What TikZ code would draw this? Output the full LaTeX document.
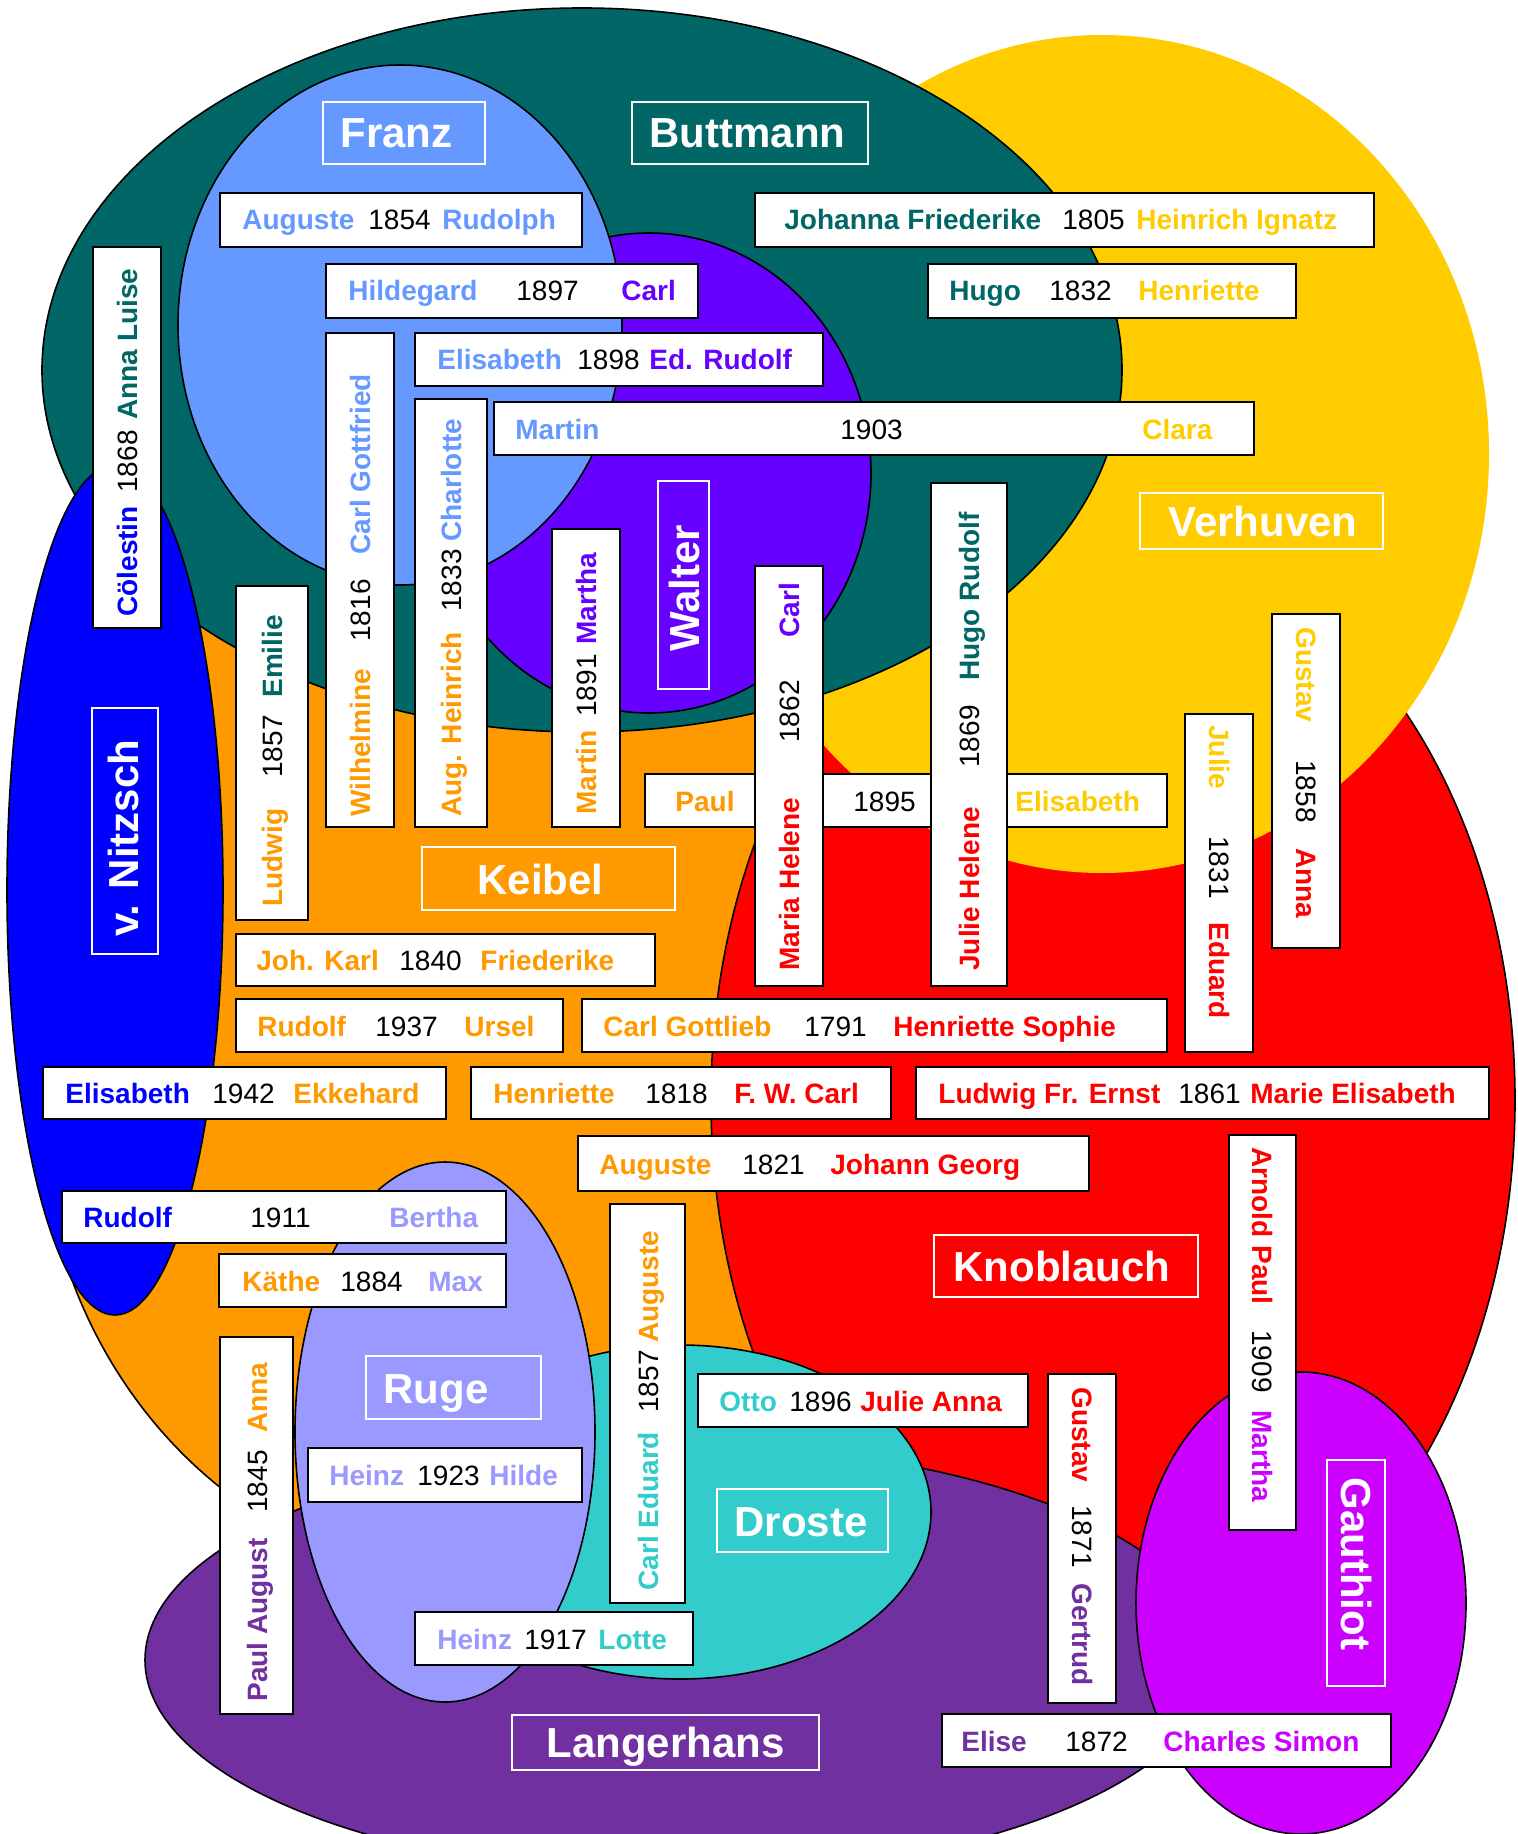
\documentclass[tikz,border=0pt]{standalone}
\usepackage{fontspec}
\setmainfont{Liberation Sans}
\definecolor{cteal}{HTML}{006666}
\definecolor{cfranz}{HTML}{6699FF}
\definecolor{cwalter}{HTML}{6600FF}
\definecolor{cyel}{HTML}{FFCC00}
\definecolor{corg}{HTML}{FF9900}
\definecolor{cred}{HTML}{FF0000}
\definecolor{cblue}{HTML}{0000FF}
\definecolor{cruge}{HTML}{9999FF}
\definecolor{cdroste}{HTML}{33CCCC}
\definecolor{clang}{HTML}{7030A0}
\definecolor{cgau}{HTML}{CC00FF}
\tikzset{
  fam/.style={draw=black, line width=0.8pt},
  pbox/.style={draw=black, fill=white, line width=1pt, inner sep=0pt, rectangle},
  tbox/.style={draw=white, line width=1pt, inner sep=0pt, rectangle},
  nm/.style={font=\fontsize{14}{16}\selectfont\bfseries, anchor=base west, inner sep=0pt},
  yr/.style={font=\fontsize{14}{16}\selectfont, text=black, anchor=base west, inner sep=0pt},
  ttl/.style={font=\fontsize{21}{24}\selectfont\bfseries, text=white, inner sep=0pt, anchor=base west}
}
\newcommand\pbx[5]{\node[pbox, minimum width={(#4-#2)*0.5pt}, minimum height={(#5-#3)*0.5pt}] (#1) at ({(#2+#4)/2},{(#3+#5)/2}) {};}
\newcommand\tbx[5]{\node[tbox, minimum width={(#4-#2)*0.5pt}, minimum height={(#5-#3)*0.5pt}] (#1) at ({(#2+#4)/2},{(#3+#5)/2}) {};}
\newcommand\hn[5]{\node[nm, text=#2] (#1) at (#3,#4) {#5};}
\newcommand\hy[4]{\node[yr] (#1) at (#2,#3) {#4};}
\newcommand\un[5]{\node[nm, text=#2, rotate=90] (#1) at (#3,#4) {#5};}
\newcommand\uy[4]{\node[yr, rotate=90] (#1) at (#2,#3) {#4};}
\newcommand\dn[5]{\node[nm, text=#2, rotate=-90] (#1) at (#3,#4) {#5};}
\newcommand\dy[4]{\node[yr, rotate=-90] (#1) at (#2,#3) {#4};}
\begin{document}
\begin{tikzpicture}[x=0.5pt, y=-0.5pt]
\useasboundingbox (0,0) rectangle (1518,1834);
% family areas
\draw[fam, fill=corg] (40,1100) arc[start angle=180, end angle=0, x radius=440, y radius=480]
   arc[start angle=0, end angle=-180, x radius=440, y radius=650] -- cycle;
\draw[fam, fill=cred] (1113,1100) ellipse [x radius=402, y radius=565];
\fill[cyel] (1102,454) ellipse [x radius=387, y radius=419];
\draw[fam, fill=cteal] (582,370) ellipse [x radius=540, y radius=362];
\draw[fam, fill=cwalter] (649,473) ellipse [x radius=222, y radius=240];
\draw[fam, fill=cfranz] (400,325) ellipse [x radius=222, y radius=260];
\draw[fam, fill=cblue] (115,890) ellipse [x radius=108, y radius=425];
\draw[fam, fill=clang] (680,1660) ellipse [x radius=535, y radius=215];
\draw[fam, fill=cdroste] (680,1512) ellipse [x radius=251, y radius=167];
\draw[fam, fill=cruge] (445,1432) ellipse [x radius=150, y radius=270];
\draw[fam, fill=cgau] (1301,1603) ellipse [x radius=165, y radius=231];

% titles
\tbx{tFranz}{323}{102}{485}{164} \node[ttl] (lFranz) at (340,148) {Franz};
\tbx{tButt}{632}{102}{868}{164} \node[ttl] (lButt) at (649,148) {Buttmann};
\tbx{tVerh}{1140}{493}{1383}{549} \node[ttl] (lVerh) at (1168,536) {Verhuven};
\tbx{tKeib}{422}{847}{675}{910} \node[ttl] (lKeib) at (477,894) {Keibel};
\tbx{tKnob}{934}{1235}{1198}{1297} \node[ttl] (lKnob) at (953,1281) {Knoblauch};
\tbx{tRuge}{366}{1356}{541}{1419} \node[ttl] (lRuge) at (383,1403) {Ruge};
\tbx{tDros}{717}{1489}{888}{1552} \node[ttl] (lDros) at (734,1536) {Droste};
\tbx{tLang}{512}{1715}{819}{1770} \node[ttl] (lLang) at (546,1757) {Langerhans};
\tbx{tWalt}{658}{481}{709}{689} \node[ttl, rotate=90] (lWalt) at (699,652) {Walter};
\tbx{tNitz}{92}{708}{158}{954} \node[ttl, rotate=90] (lNitz) at (138,937) {v. Nitzsch};
\tbx{tGaut}{1327}{1460}{1385}{1686} \node[ttl, rotate=-90] (lGaut) at (1341,1477) {Gauthiot};

% horizontal couples
\pbx{h1}{220}{193}{582}{247} \hn{h1a}{cfranz}{242}{230}{Auguste} \hy{h1b}{368}{230}{1854} \hn{h1c}{cfranz}{442}{230}{Rudolph}
\pbx{h2}{326}{264}{698}{318} \hn{h2a}{cfranz}{348}{301}{Hildegard} \hy{h2b}{516}{301}{1897} \hn{h2c}{cwalter}{621}{301}{Carl}
\pbx{h3}{415}{333}{823}{386} \hn{h3a}{cfranz}{437}{370}{Elisabeth} \hy{h3b}{577}{370}{1898} \hn{h3c}{cwalter}{649}{370}{Ed. Rudolf}
\pbx{h4}{494}{402}{1254}{455} \hn{h4a}{cfranz}{515}{439}{Martin} \hy{h4b}{840}{439}{1903} \hn{h4c}{cyel}{1142}{439}{Clara}
\pbx{h5}{755}{193}{1374}{247} \hn{h5a}{cteal}{784}{230}{Johanna Friederike} \hy{h5b}{1062}{230}{1805} \hn{h5c}{cyel}{1136}{230}{Heinrich Ignatz}
\pbx{h6}{928}{264}{1296}{318} \hn{h6a}{cteal}{949}{301}{Hugo} \hy{h6b}{1049}{301}{1832} \hn{h6c}{cyel}{1138}{301}{Henriette}
\pbx{h7}{645}{774}{1167}{827} \hn{h7a}{corg}{675}{811}{Paul} \hy{h7b}{853}{811}{1895} \hn{h7c}{cyel}{1015}{811}{Elisabeth}
\pbx{h8}{236}{934}{655}{986} \hn{h8a}{corg}{256}{970}{Joh. Karl} \hy{h8b}{399}{970}{1840} \hn{h8c}{corg}{480}{970}{Friederike}
\pbx{h9}{236}{999}{563}{1052} \hn{h9a}{corg}{257}{1036}{Rudolf} \hy{h9b}{375}{1036}{1937} \hn{h9c}{corg}{464}{1036}{Ursel}
\pbx{h10}{582}{999}{1167}{1052} \hn{h10a}{corg}{603}{1036}{Carl Gottlieb} \hy{h10b}{804}{1036}{1791} \hn{h10c}{cred}{893}{1036}{Henriette Sophie}
\pbx{h11}{43}{1067}{446}{1119} \hn{h11a}{cblue}{65}{1103}{Elisabeth} \hy{h11b}{212}{1103}{1942} \hn{h11c}{corg}{293}{1103}{Ekkehard}
\pbx{h12}{471}{1067}{891}{1119} \hn{h12a}{corg}{493}{1103}{Henriette} \hy{h12b}{645}{1103}{1818} \hn{h12c}{cred}{734}{1103}{F. W. Carl}
\pbx{h13}{916}{1067}{1489}{1119} \hn{h13a}{cred}{938}{1103}{Ludwig Fr. Ernst} \hy{h13b}{1178}{1103}{1861} \hn{h13c}{cred}{1250}{1103}{Marie Elisabeth}
\pbx{h14}{578}{1136}{1089}{1191} \hn{h14a}{corg}{599}{1174}{Auguste} \hy{h14b}{742}{1174}{1821} \hn{h14c}{cred}{830}{1174}{Johann Georg}
\pbx{h15}{62}{1191}{506}{1243} \hn{h15a}{cblue}{83}{1227}{Rudolf} \hy{h15b}{250}{1227}{1911} \hn{h15c}{cruge}{389}{1227}{Bertha}
\pbx{h16}{219}{1254}{506}{1307} \hn{h16a}{corg}{242}{1291}{Käthe} \hy{h16b}{340}{1291}{1884} \hn{h16c}{cruge}{428}{1291}{Max}
\pbx{h17}{308}{1448}{582}{1502} \hn{h17a}{cruge}{329}{1485}{Heinz} \hy{h17b}{417}{1485}{1923} \hn{h17c}{cruge}{489}{1485}{Hilde}
\pbx{h18}{698}{1374}{1028}{1427} \hn{h18a}{cdroste}{719}{1411}{Otto} \hy{h18b}{789}{1411}{1896} \hn{h18c}{cred}{860}{1411}{Julie Anna}
\pbx{h19}{415}{1612}{693}{1665} \hn{h19a}{cruge}{437}{1649}{Heinz} \hy{h19b}{524}{1649}{1917} \hn{h19c}{cdroste}{598}{1649}{Lotte}
\pbx{h20}{942}{1714}{1391}{1767} \hn{h20a}{clang}{961}{1751}{Elise} \hy{h20b}{1065}{1751}{1872} \hn{h20c}{cgau}{1163}{1751}{Charles Simon}

% vertical couples, reading upwards
\pbx{v1}{93}{247}{161}{628} \un{v1a}{cblue}{137}{617}{Cölestin} \uy{v1b}{137}{493}{1868} \un{v1c}{cteal}{137}{420}{Anna Luise}
\pbx{v2}{236}{586}{308}{920} \un{v2a}{corg}{282}{907}{Ludwig} \uy{v2b}{282}{778}{1857} \un{v2c}{cteal}{282}{698}{Emilie}
\pbx{v3}{326}{333}{394}{827} \un{v3a}{corg}{370}{817}{Wilhelmine} \uy{v3b}{370}{642}{1816} \un{v3c}{cfranz}{370}{555}{Carl Gottfried}
\pbx{v4}{415}{399}{487}{827} \un{v4a}{corg}{461}{817}{Aug. Heinrich} \uy{v4b}{461}{612}{1833} \un{v4c}{cfranz}{461}{542}{Charlotte}
\pbx{v5}{552}{529}{620}{827} \un{v5a}{corg}{596}{815}{Martin} \uy{v5b}{596}{717}{1891} \un{v5c}{cwalter}{596}{645}{Martha}
\pbx{v6}{755}{566}{823}{986} \un{v6a}{cred}{799}{971}{Maria Helene} \uy{v6b}{799}{743}{1862} \un{v6c}{cwalter}{799}{638}{Carl}
\pbx{v7}{931}{483}{1007}{986} \un{v7a}{cred}{979}{971}{Julie Helene} \uy{v7b}{979}{768}{1869} \un{v7c}{cteal}{979}{681}{Hugo Rudolf}
\pbx{v8}{610}{1204}{685}{1603} \un{v8a}{cdroste}{658}{1591}{Carl Eduard} \uy{v8b}{658}{1413}{1857} \un{v8c}{corg}{658}{1343}{Auguste}
\pbx{v9}{220}{1337}{293}{1714} \un{v9a}{clang}{267}{1702}{Paul August} \uy{v9b}{267}{1513}{1845} \un{v9c}{corg}{267}{1433}{Anna}

% vertical couples, reading downwards
\pbx{w1}{1185}{714}{1253}{1052} \dn{w1a}{cyel}{1209}{725}{Julie} \dy{w1b}{1209}{836}{1831} \dn{w1c}{cred}{1209}{922}{Eduard}
\pbx{w2}{1272}{614}{1340}{948} \dn{w2a}{cyel}{1296}{627}{Gustav} \dy{w2b}{1296}{760}{1858} \dn{w2c}{cred}{1296}{848}{Anna}
\pbx{w3}{1229}{1135}{1296}{1530} \dn{w3a}{cred}{1252}{1147}{Arnold Paul} \dy{w3b}{1252}{1330}{1909} \dn{w3c}{cgau}{1252}{1410}{Martha}
\pbx{w4}{1048}{1374}{1116}{1703} \dn{w4a}{cred}{1072}{1387}{Gustav} \dy{w4b}{1072}{1505}{1871} \dn{w4c}{clang}{1072}{1583}{Gertrud}
\end{tikzpicture}
\end{document}
